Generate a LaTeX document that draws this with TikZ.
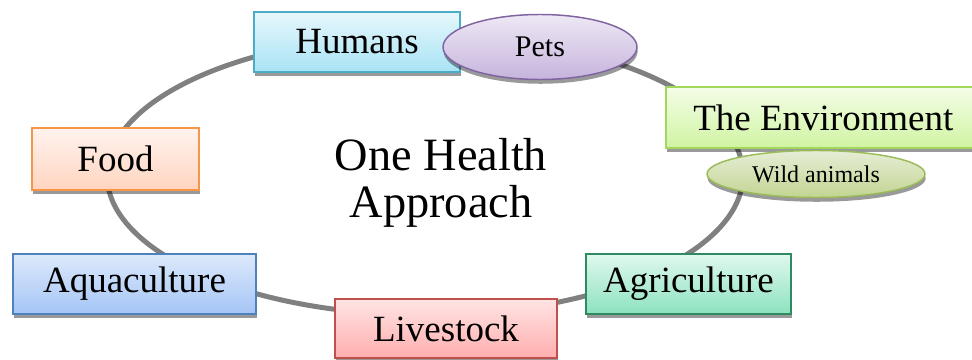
\documentclass[tikz,border=0pt]{standalone}
\usepackage{fontspec}
\setmainfont{Liberation Serif}
\usetikzlibrary{shadows,shapes.geometric}

\definecolor{ringgray}{HTML}{808080}
\definecolor{humanline}{HTML}{4BACC6}
\definecolor{humantop}{HTML}{E6F7FC}
\definecolor{humanbot}{HTML}{A9E3F5}
\definecolor{petline}{HTML}{8064A2}
\definecolor{pettop}{HTML}{EEE8F5}
\definecolor{petbot}{HTML}{C6B4DC}
\definecolor{envline}{HTML}{A2D65C}
\definecolor{envtop}{HTML}{F4FDE8}
\definecolor{envbot}{HTML}{D0F4A2}
\definecolor{wildline}{HTML}{9BBB59}
\definecolor{wildtop}{HTML}{E6EDD5}
\definecolor{wildbot}{HTML}{C2D592}
\definecolor{foodline}{HTML}{F79646}
\definecolor{foodtop}{HTML}{FFF3EE}
\definecolor{foodbot}{HTML}{FFD4C0}
\definecolor{aqualine}{HTML}{4F81BD}
\definecolor{aquatop}{HTML}{DDE9FB}
\definecolor{aquabot}{HTML}{A4C5F6}
\definecolor{liveline}{HTML}{C0504D}
\definecolor{livetop}{HTML}{FFE4E4}
\definecolor{livebot}{HTML}{FFAEAE}
\definecolor{agriline}{HTML}{2F8A62}
\definecolor{agritop}{HTML}{E0F8EF}
\definecolor{agribot}{HTML}{8CE2BF}

\tikzset{every picture/.style={line width=0.75pt}}
\tikzset{
  box/.style={draw, rectangle, line width=1.1pt, inner sep=0pt,
    minimum height=45pt, font=\fontsize{27.75}{33}\selectfont,
    drop shadow={shadow xshift=0.5pt, shadow yshift=-3.2pt, fill=black, opacity=0.4}},
  blob/.style={draw, ellipse, line width=1.1pt, inner sep=0pt,
    drop shadow={shadow xshift=0.5pt, shadow yshift=-3.2pt, fill=black, opacity=0.4}},
  ring/.style={draw=ringgray, line width=3.75pt}
}

\begin{document}
\begin{tikzpicture}[x=0.75pt,y=0.75pt,yscale=-1,xscale=1]
\useasboundingbox (0,0) rectangle (972,360);

%Shape: Ellipse (the cycle)
\coordinate (ringc) at (425,175);
\draw[ring] (ringc) ellipse [x radius=318, y radius=140];

%Centre text
\node[align=center, font=\fontsize{34.75}{35.5}\selectfont] (hub) at (441,183) {One Health\\Approach};

%Shape: Rectangle
\node[box, draw=humanline, top color=humantop, bottom color=humanbot, minimum width=154.5pt] (humans) at (357,42) {Humans};
%Shape: Ellipse
\node[blob, draw=petline, top color=pettop, bottom color=petbot, minimum width=145.5pt, minimum height=48.75pt, font=\fontsize{22.5}{26}\selectfont] (pets) at (540,47) {Pets};
%Shape: Rectangle
\node[box, draw=envline, top color=envtop, bottom color=envbot, minimum width=240pt, minimum height=45.75pt] (env) at (826,117.5) {\hspace*{-4pt}The Environment};
%Shape: Ellipse
\node[blob, draw=wildline, top color=wildtop, bottom color=wildbot, minimum width=163.5pt, minimum height=35.25pt, font=\fontsize{18}{21}\selectfont] (wild) at (816,174) {Wild animals};
%Shape: Rectangle
\node[box, draw=agriline, top color=agritop, bottom color=agribot, minimum width=153.75pt] (agri) at (688.5,284) {Agriculture};
%Shape: Rectangle
\node[box, draw=liveline, top color=livetop, bottom color=livebot, minimum width=166.5pt, minimum height=44.25pt] (live) at (446,328.5) {Livestock};
%Shape: Rectangle
\node[box, draw=aqualine, top color=aquatop, bottom color=aquabot, minimum width=182.25pt] (aqua) at (134.5,284) {Aquaculture};
%Shape: Rectangle
\node[box, draw=foodline, top color=foodtop, bottom color=foodbot, minimum width=125.25pt, minimum height=46.5pt] (food) at (115.5,159) {Food};

\end{tikzpicture}
\end{document}
